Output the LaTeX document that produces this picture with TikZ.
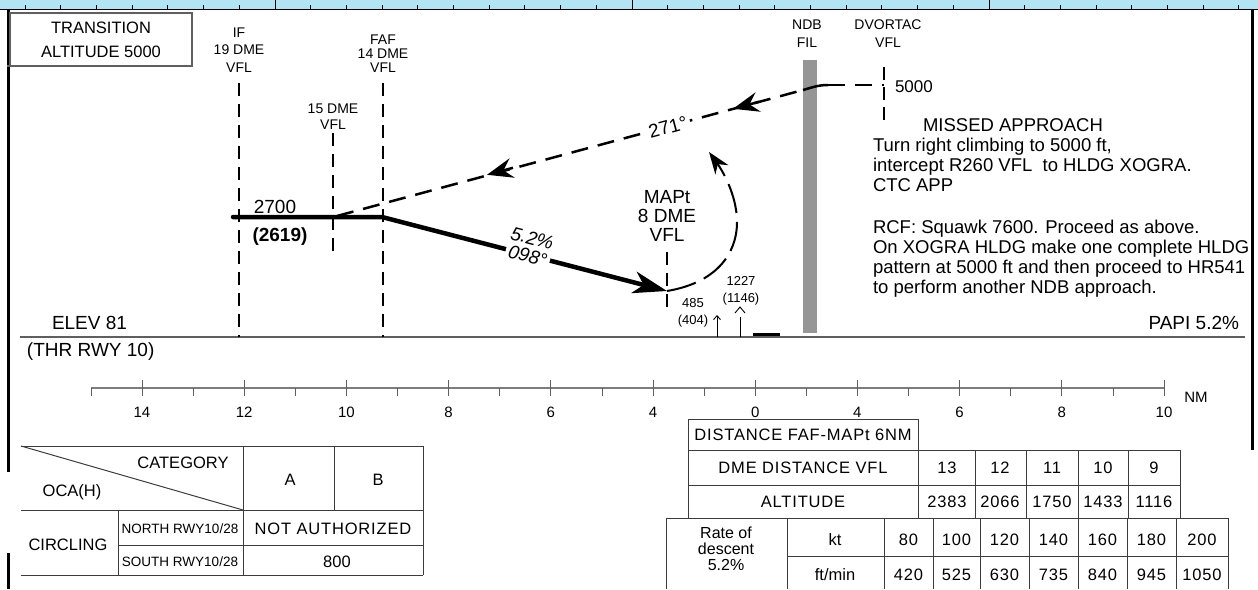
\documentclass[tikz,border=0pt]{standalone}
\usepackage{fontspec}
\setmainfont{Liberation Sans}
\newfontfamily\trkfont[LetterSpace=5]{Liberation Sans}
\usetikzlibrary{arrows.meta}
\definecolor{band}{RGB}{178,228,243}
\definecolor{bargray}{RGB}{150,150,150}
\definecolor{linegray}{RGB}{95,95,95}
\definecolor{rulegray}{RGB}{125,125,125}
\definecolor{tblgray}{RGB}{60,60,60}
\begin{document}
\begin{tikzpicture}[x=1pt,y=-1pt,
  every node/.style={inner sep=0pt, outer sep=0pt},
  big/.style={font=\fontsize{19}{19}\selectfont},
  lbl/.style={font=\fontsize{14}{18}\selectfont, align=center},
  mtxt/.style={font=\fontsize{18.5}{20}\selectfont, anchor=base west},
  tbtxt/.style={font=\fontsize{16.5}{17}\selectfont},
  tbtrk/.style={font=\trkfont\fontsize{16.5}{17}\selectfont},
  small/.style={font=\fontsize{13}{17}\selectfont, align=center},
  vdash/.style={line width=1.1pt, dash pattern=on 13pt off 8pt},
  tbl/.style={tblgray, line width=1pt},
  tickm/.style={line width=0.9pt}
]
\useasboundingbox (0,0) rectangle (1258,589);

% top band
\fill[band] (0,0) rectangle (1258,9.5);
\draw[line width=1.5pt] (0,9.5) -- (1258,9.5);
\foreach \k in {-7,...,27} {
  \pgfmathsetmacro\tx{275+35.7*\k}
  \draw[tickm] (\tx,9.5) -- (\tx,5);
}
\foreach \tx in {275,632,989} \draw[tickm] (\tx,9.5) -- (\tx,0);

% frame borders
\draw[line width=3pt] (8,9.5) -- (8,472);
\draw[line width=3pt] (8,553) -- (8,589);
\draw[line width=3pt] (1252,9.5) -- (1252,450);

% transition box
\node[draw=linegray, line width=1.5pt, minimum width=182pt, minimum height=53pt, anchor=north west] (trans) at (10,13) {};
\draw[linegray, line width=1.5pt] (7,66) -- (trans.south west);
\node[align=center, font=\fontsize{16.5}{24}\selectfont] (transtxt) at (101,40) {TRANSITION\\ALTITUDE 5000};

% ground line
\coordinate (g0) at (20,337);
\coordinate (g1) at (1245,337);
\draw[linegray, line width=1.2pt] (g0) -- (g1);

% fix labels and dashed verticals
\node[lbl, font=\fontsize{14}{17.5}\selectfont] (iflbl) at (239,50) {IF\\19 DME\\VFL};
\coordinate (if0) at (239,83); \coordinate (if1) at (239,337);
\draw[vdash] (if0) -- (if1);
\node[lbl, font=\fontsize{14}{14}\selectfont] (faflbl) at (383,54) {FAF\\14 DME\\VFL};
\coordinate (faf0) at (383,83); \coordinate (faf1) at (383,337);
\draw[vdash] (faf0) -- (faf1);
\node[lbl, font=\fontsize{14}{16}\selectfont] (d15lbl) at (333,117) {15 DME\\VFL};
\coordinate (d150) at (333,133); \coordinate (d151) at (333,257);
\draw[vdash] (d150) -- (d151);
\node[lbl] (ndblbl) at (807,34) {NDB\\FIL};
\node[lbl] (dvorlbl) at (888,34) {DVORTAC\\VFL};
\coordinate (dv0) at (884,67); \coordinate (dv1) at (884,123);
\draw[line width=1.1pt, dash pattern=on 13pt off 7pt] (dv0) -- (dv1);

% NDB bar
\node[fill=bargray, minimum width=14pt, minimum height=273pt, anchor=north west] (ndbbar) at (803,60) {};

% MAPt
\node[align=center, font=\fontsize{19}{19}\selectfont] (maptlbl) at (667,216) {MAPt\\8 DME\\VFL};
\coordinate (mp0) at (667,252); \coordinate (mp1) at (667,307);
\draw[vdash] (mp0) -- (mp1);

% missed approach dashed track
\coordinate (ma0) at (337,216);
\coordinate (ndbj) at (803,90);
\coordinate (ma5) at (828,85);
\coordinate (dvor) at (884,85);
\draw[line width=2.5pt, dash pattern=on 17pt off 10pt] (ma0) -- (ndbj);
\draw[line width=2.5pt] (ndbj) .. controls (812,87.5) and (818,85) .. (ma5);
\draw[line width=2.5pt, dash pattern=on 17pt off 10pt] (ma5) -- (dvor);
\coordinate (ar1b) at (759,101.8); \coordinate (ar1) at (733,108.8);
\coordinate (ar2b) at (513,167.8); \coordinate (ar2) at (487,174.8);
\draw[line width=2.5pt, -{Stealth[length=26pt,width=20pt,inset=9pt]}] (ar1b) -- (ar1);
\draw[line width=2.5pt, -{Stealth[length=26pt,width=20pt,inset=9pt]}] (ar2b) -- (ar2);
\node[fill=white, rotate=15, big, inner sep=3pt] (hdg) at (668,127) {271°};

% 5000
\node[anchor=west, font=\fontsize{17}{17}\selectfont] (alt5000) at (895,87) {5000};

% approach profile
\coordinate (p0) at (233,217);
\coordinate (p1) at (382,217);
\coordinate (mapt) at (667,291);
\draw[line width=4.5pt, line join=round, line cap=round, -{Stealth[length=34pt,width=22pt,inset=10pt]}] (p0) -- (p1) -- (mapt);
\node[fill=white, rotate=-14.6, align=center, font=\itshape\fontsize{19}{18}\selectfont, inner sep=1pt] (slopelbl) at (530,247) {5.2\%\\098°};
\node[big, anchor=base] (a2700) at (275,213) {2700};
\node[big, anchor=base] (a2619) at (280,241) {\textbf{(2619)}};

% missed approach turn
\draw[line width=2pt, dash pattern=on 30pt off 9pt, -{Stealth[length=22pt,width=16pt,inset=7pt]}] (mapt) .. controls (715,283) and (737,255) .. (737,222) .. controls (737,195) and (722,170) .. (709,152);

% obstacles
\node[small] (ob1) at (693,313) {485\\(404)};
\coordinate (ob1g) at (717,337); \coordinate (ob1t) at (717,315);
\draw[line width=0.9pt, -{Straight Barb[length=4pt,width=7pt]}] (ob1g) -- (ob1t);
\node[small] (ob2) at (741,291) {1227\\(1146)};
\coordinate (ob2g) at (740,337); \coordinate (ob2t) at (740,317);
\draw[line width=0.9pt] (ob2g) -- (ob2t);
\draw[line width=0.9pt] (735,313) -- (740,307) -- (745,313);
\coordinate (rw0) at (753,334); \coordinate (rw1) at (780,334);
\draw[line width=3pt] (rw0) -- (rw1);

% side texts
\node[big, anchor=base west] (elev) at (52,329) {ELEV 81};
\node[big, anchor=base west] (thr) at (27,356) {(THR RWY 10)};
\node[big, anchor=base east] (papi) at (1239,329) {PAPI 5.2\%};

\node[mtxt, anchor=base] (m0) at (1013,131.6) {MISSED APPROACH};
\node[mtxt] (m1) at (873,151.6) {Turn right climbing to 5000 ft,};
\node[mtxt] (m2) at (873,171.6) {intercept R260 VFL\ \ to HLDG XOGRA.};
\node[mtxt] (m3) at (873,191.6) {CTC APP};
\node[mtxt] (m4) at (873,233.6) {RCF: Squawk 7600. Proceed as above.};
\node[mtxt] (m5) at (873,253.6) {On XOGRA HLDG make one complete HLDG};
\node[mtxt] (m6) at (873,273.6) {pattern at 5000 ft and then proceed to HR541};
\node[mtxt] (m7) at (873,293.6) {to perform another NDB approach.};

% distance scale
\coordinate (r0) at (91,388); \coordinate (r1) at (1164,388);
\draw[rulegray, line width=1.5pt] (r0) -- (r1);
\foreach \lab [count=\i from 0] in {14,12,10,8,6,4,0,4,6,8,10} {
  \pgfmathsetmacro\tx{142+102.2*\i}
  \draw[line width=1pt, linegray] (\tx,380) -- (\tx,396);
  \node[font=\fontsize{15}{15}\selectfont] (rl\i) at (\tx,412) {\lab};
}
\foreach \i in {0,...,10} {
  \pgfmathsetmacro\tx{91+102.2*\i}
  \draw[line width=0.9pt, linegray] (\tx,388) -- (\tx,396);
}
\node[font=\fontsize{15}{15}\selectfont] (nm) at (1196,397) {NM};

% OCA table
\draw[tbl] (21,446) -- (423,446);
\draw[tbl] (21,510) -- (423,510);
\draw[tbl] (118,545) -- (423,545);
\draw[tbl] (21,575) -- (423,575);
\draw[tbl] (118,510) -- (118,575);
\draw[tbl] (243,446) -- (243,575);
\draw[tbl] (334,446) -- (334,510);
\draw[tbl] (423,446) -- (423,575);
\draw[tbl] (21,446) -- (243,510);
\node[tbtxt] (cat) at (183,463) {CATEGORY};
\node[tbtxt] (oca) at (72,492) {OCA(H)};
\node[tbtxt] (ca) at (290,480) {A};
\node[tbtxt] (cb) at (378,480) {B};
\node[tbtxt] (circ) at (68,545) {CIRCLING};
\node[font=\fontsize{13.5}{14}\selectfont] (north) at (180,529) {NORTH RWY10/28};
\node[font=\fontsize{13.5}{14}\selectfont] (south) at (180,562) {SOUTH RWY10/28};
\node[tbtrk] (notauth) at (333,529) {NOT AUTHORIZED};
\node[tbtxt] (c800) at (337,562) {800};

% DME table
\draw[tbl] (688,419) rectangle (918,450);
\draw[tbl] (688,450) rectangle (1180,518);
\draw[tbl] (688,485) -- (1180,485);
\foreach \tx in {918,975,1026,1078,1128} \draw[tbl] (\tx,450) -- (\tx,518);
\node[tbtrk] (dist) at (803,435) {DISTANCE FAF-MAPt 6NM};
\node[tbtrk] (dmed) at (803,468) {DME DISTANCE VFL};
\node[tbtrk] (altt) at (803,502) {ALTITUDE};
\foreach \v/\a [count=\i] in {13/2383,12/2066,11/1750,10/1433,9/1116} {
  \pgfmathsetmacro\tx{{947,1000,1052,1103,1154}[\i-1]}
  \node[tbtrk] (dv\i) at (\tx,468) {\v};
  \node[tbtrk] (av\i) at (\tx,502) {\a};
}

% rate table
\draw[tbl] (666,518) -- (1228,518);
\draw[tbl] (787,556) -- (1228,556);
\foreach \tx in {666,787,884,933,980,1029,1078,1127,1176,1228} \draw[tbl] (\tx,518) -- (\tx,589);
\node[align=center, font=\fontsize{16}{16}\selectfont] (rod) at (726,549) {Rate of\\descent\\5.2\%};
\node[tbtxt] (kt) at (835,540) {kt};
\node[tbtxt] (ftm) at (835,575) {ft/min};
\foreach \k/\f [count=\i] in {80/420,100/525,120/630,140/735,160/840,180/945,200/1050} {
  \pgfmathsetmacro\tx{{908.5,956.5,1004.5,1053.5,1102.5,1151.5,1202}[\i-1]}
  \node[tbtrk] (kv\i) at (\tx,540) {\k};
  \node[tbtrk] (fv\i) at (\tx,575) {\f};
}
\end{tikzpicture}
\end{document}
